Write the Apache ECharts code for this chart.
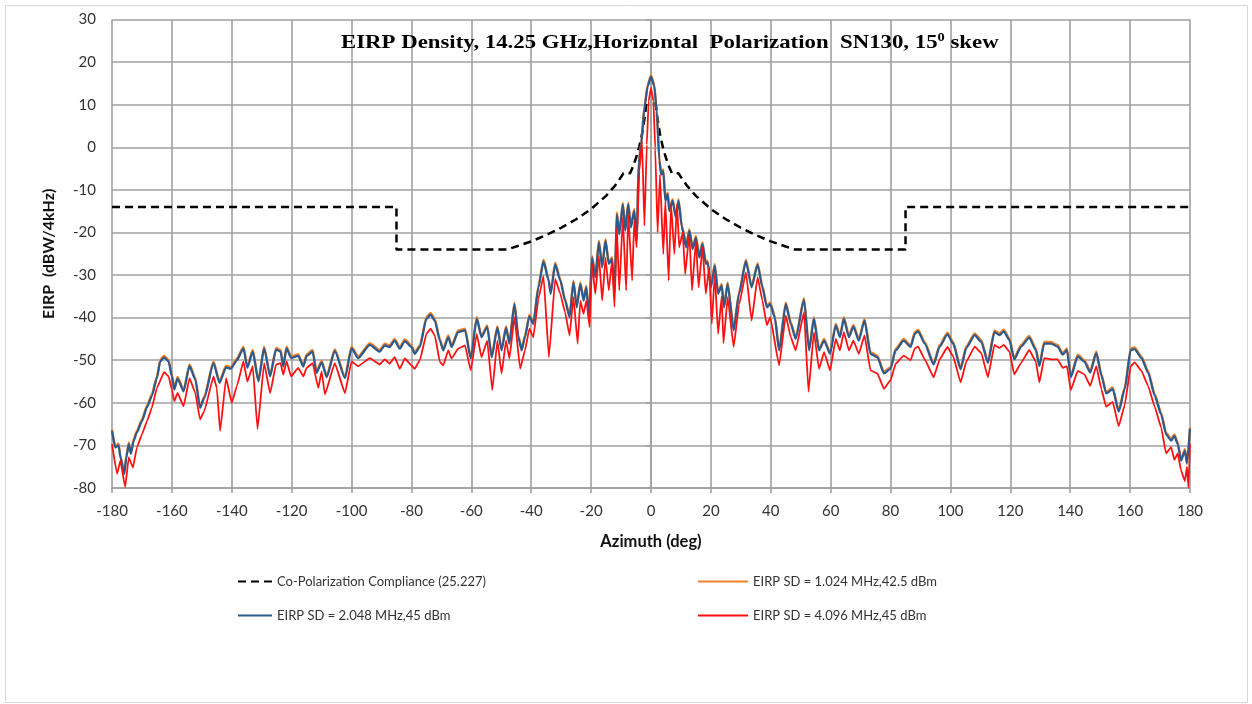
<!DOCTYPE html>
<html>
<head>
<meta charset="utf-8">
<script src="https://cdn.jsdelivr.net/npm/echarts@6/dist/echarts.min.js"></script>
<style>
  html, body { margin: 0; padding: 0; background: #ffffff; }
  #chart { width: 1252px; height: 704px; }
</style>
</head>
<body>
<div id="chart"></div>
<script>
// Series names (legend entries)
const seriesNames = [
  'Co-Polarization Compliance (25.227)',
  'EIRP SD = 1.024 MHz,42.5 dBm',
  'EIRP SD = 2.048 MHz,45 dBm',
  'EIRP SD = 4.096 MHz,45 dBm'
];

// Compliance mask (dBW/4kHz) vs azimuth (deg); null leaves the main-beam gap open
const maskAz = [-180, -85, -85, -48, -45, -40, -35, -30, -25, -20, -15, -12, -10, -9.2, -7, -6, -5, -4, -3, -2, -1.5,
  0, 1.5, 2, 3, 4, 5, 6, 7, 9.2, 10, 12, 15, 20, 25, 30, 35, 40, 45, 48, 85, 85, 180];
const maskVals = [-14, -14, -24, -24, -23.3, -22.1, -20.6, -18.9, -16.9, -14.5, -11.4, -9, -7, -6.1, -6.1, -4.5, -2.5, -0.1, 3.1, 7.5, 10.6,
  null, 10.6, 7.5, 3.1, -0.1, -2.5, -4.5, -6.1, -6.1, -7, -9, -11.4, -14.5, -16.9, -18.9, -20.6, -22.1, -23.3, -24, -24, -14, -14];

// Azimuth samples shared by the 1.024 MHz and 2.048 MHz measurements
const azimuthA = [
  -180,-178.9,-177.8,-177.2,-175.9,-175.2,-174.4,-173.7,-172.8,-171.7,
  -170,-168.3,-166.7,-165,-163.9,-162.6,-161.1,-160,-159.2,-158.1,
  -156.1,-154.1,-152.2,-150.6,-149.2,-146.1,-144.1,-141.9,-140.3,-138.3,
  -136.1,-134.8,-133,-131.1,-129.2,-127.2,-125.2,-123.7,-122.8,-121.7,
  -120.2,-117.8,-116.1,-115,-113,-111.7,-110,-108.3,-105.6,-102.2,
  -100,-97.8,-93.9,-90.6,-88.9,-87.3,-85.6,-83.9,-82.2,-80,
  -78.9,-77.2,-75,-73.6,-72.2,-70.5,-69.4,-67.7,-66.6,-64.4,
  -62.1,-60.2,-58.2,-56.6,-54.7,-53.2,-51.3,-49.9,-48.4,-47.3,
  -45.6,-44.3,-43.2,-42.1,-40.6,-39.3,-37.6,-35.9,-34.2,-33.5,
  -32,-30.3,-28.7,-27.2,-25.9,-24.8,-23.6,-22.5,-21.6,-20.7,
  -19.7,-18.6,-17.4,-16.3,-15.2,-14.1,-13,-12.2,-11.4,-10.6,
  -9.4,-8.6,-7.6,-6.7,-5.6,-4.8,-4.1,-3.3,-2.2,-1.1,
  0,1.1,1.9,2.8,3.4,4.1,4.8,5.6,6.1,7.2,
  8.3,9.2,10.3,10.8,11.7,12.8,13.9,15,16.1,17.2,
  18.3,18.9,20,21.3,22.4,23.6,24.4,25.6,27.6,29.4,
  31.7,33.6,35.6,37.2,38.7,39.8,41.3,42.8,45,46.7,
  48.3,51.1,52.8,54.4,56.1,57.8,59.8,61.7,63.1,64.4,
  66.1,67.6,69.4,71.3,73.3,75.6,77.8,80,81.7,84.4,
  86.7,88.1,89.2,91.4,94.4,96.4,99,100.9,103.4,105.3,
  108.1,110.3,112.5,114.7,116.4,117.8,119.7,121.3,123.6,126.3,
  128.5,129.7,131.3,133.6,135.8,137.5,138.9,140.2,142.5,144.7,
  146.7,148.7,150.4,152,154.2,156.2,158.2,160.2,161.5,163.8,
  166,168.2,170.4,172,173.7,174.8,175.9,177,178.3,179,
  180
];

// EIRP SD, 2.048 MHz (dBW/4kHz)
const eirp2048 = [
  -66.6,-70.5,-70,-72.8,-76.7,-72.8,-69.7,-72,-69,-67,
  -64.3,-61,-58.4,-54.2,-50.3,-49.3,-50.3,-53.8,-56.9,-54.3,
  -57.3,-51.4,-54.5,-61.2,-58.9,-50.7,-55.3,-51.7,-52,-50,
  -47.2,-51.8,-48,-55,-47.2,-53.8,-47.5,-48,-51.5,-47.2,
  -49.5,-49,-51.5,-49,-48,-53,-50.5,-54,-47.8,-54.2,
  -47.2,-49.5,-46.4,-48,-46.5,-46.9,-45.4,-47.3,-45.5,-46.9,
  -48.5,-46.9,-40.3,-39.3,-40.7,-45.4,-47.7,-44.6,-46.9,-43.4,
  -43,-49.6,-40.3,-44.6,-42.2,-49.3,-42.4,-47.7,-42.4,-46.1,
  -36.9,-44.6,-47.7,-44.6,-39.7,-41.5,-32.9,-26.8,-31.3,-34.4,
  -27.5,-31.3,-36,-39.9,-31.7,-37.6,-32.1,-36,-32.9,-40,
  -25.9,-30.5,-22.3,-28.2,-22,-27.4,-26.2,-34.4,-15.7,-20.4,
  -13.4,-19.6,-13.4,-18.8,-14.9,-22,-4,0.5,9.2,14.3,
  16.6,14.3,8.4,-3.2,-6.4,-5.6,-12.6,-11,-15,-12.6,
  -16.5,-12.6,-18.8,-20,-23.5,-19.6,-23.9,-21.2,-25.9,-22.7,
  -27.4,-27,-32.9,-27.8,-34.4,-32.5,-37.6,-32.1,-43,-34.4,
  -26.8,-32.9,-27.6,-32.9,-37.6,-36.8,-39.9,-47.7,-36.8,-41.5,
  -45,-35.8,-47.7,-40.3,-47.7,-45.4,-48.5,-41.8,-44.6,-40.3,
  -44.6,-42.1,-45.4,-40.7,-48.5,-49.3,-53.1,-52,-47.7,-45.4,
  -46.9,-43.8,-43.2,-46.1,-51,-46.8,-43.9,-46.1,-52.1,-47.1,
  -44.1,-45.7,-50.6,-43.4,-44.1,-43.2,-45.3,-49.8,-46.8,-44.7,
  -47.6,-51.4,-46.1,-46.1,-46.8,-48.7,-47.6,-54,-49.1,-50.3,
  -52.9,-48.3,-53.6,-57.8,-56.8,-62.1,-56.8,-47.6,-47.4,-49.5,
  -52.9,-58.3,-62.8,-67.4,-68.9,-67.8,-69.7,-73.6,-71.3,-74.3,
  -66.1
];

// EIRP SD, 1.024 MHz (dBW/4kHz)
const eirp1024 = [
  -66.2,-70.1,-69.6,-72.4,-76.3,-72.4,-69.3,-71.6,-68.6,-66.6,
  -63.9,-60.6,-58,-53.8,-49.9,-48.9,-49.9,-53.4,-56.5,-53.9,
  -56.9,-51,-54.1,-60.8,-58.5,-50.3,-54.9,-51.3,-51.6,-49.6,
  -46.8,-51.4,-47.6,-54.6,-46.8,-53.4,-47.1,-47.6,-51.1,-46.8,
  -49.1,-48.6,-51.1,-48.6,-47.6,-52.6,-50.1,-53.6,-47.4,-53.8,
  -46.8,-49.1,-46,-47.6,-46.1,-46.5,-45,-46.9,-45.1,-46.5,
  -48.1,-46.5,-39.9,-38.9,-40.3,-45,-47.3,-44.2,-46.5,-43,
  -42.6,-49.2,-39.9,-44.2,-41.8,-48.9,-42,-47.3,-42,-45.7,
  -36.5,-44.2,-47.3,-44.2,-39.3,-41.1,-32.5,-26.4,-30.9,-34,
  -27.1,-30.9,-35.6,-39.5,-31.3,-37.2,-31.7,-35.6,-32.5,-39.6,
  -25.5,-30.1,-21.9,-27.8,-21.6,-27,-25.8,-34,-15.3,-20,
  -13,-19.2,-13,-18.4,-14.5,-21.6,-3.6,0.9,9.6,14.7,
  17,14.7,8.8,-2.8,-6,-5.2,-12.2,-10.6,-14.6,-12.2,
  -16.1,-12.2,-18.4,-19.6,-23.1,-19.2,-23.5,-20.8,-25.5,-22.3,
  -27,-26.6,-32.5,-27.4,-34,-32.1,-37.2,-31.7,-42.6,-34,
  -26.4,-32.5,-27.2,-32.5,-37.2,-36.4,-39.5,-47.3,-36.4,-41.1,
  -44.6,-35.4,-47.3,-39.9,-47.3,-45,-48.1,-41.4,-44.2,-39.9,
  -44.2,-41.7,-45,-40.3,-48.1,-48.9,-52.7,-51.6,-47.3,-45,
  -46.5,-43.4,-42.8,-45.7,-50.6,-46.4,-43.5,-45.7,-51.7,-46.7,
  -43.7,-45.3,-50.2,-43,-43.7,-42.8,-44.9,-49.4,-46.4,-44.3,
  -47.2,-51,-45.7,-45.7,-46.4,-48.3,-47.2,-53.6,-48.7,-49.9,
  -52.5,-47.9,-53.2,-57.4,-56.4,-61.7,-56.4,-47.2,-47,-49.1,
  -52.5,-57.9,-62.4,-67,-68.5,-67.4,-69.3,-73.2,-70.9,-73.9,
  -65.7
];

// Azimuth samples for the 4.096 MHz measurement
const azimuthB = [
  -180,-178.3,-177.2,-175.6,-174.4,-173,-171.7,-170,-168.3,-166.7,
  -165,-162.6,-161.1,-160,-159.2,-158.1,-156.1,-154.1,-152.2,-150.6,
  -149.2,-146.1,-145,-143.9,-141.9,-140,-138.3,-136.1,-134.8,-133,
  -131.4,-129.2,-127.2,-125.2,-123.7,-122.8,-121.7,-120.2,-117.8,-116.1,
  -115,-113,-111.1,-110,-108.9,-105.6,-102.2,-100,-97.8,-93.9,
  -90.6,-88.9,-87.3,-85.6,-83.9,-82.2,-80,-78.9,-77.2,-75,
  -73.6,-72.2,-70.5,-69.4,-67.7,-66.6,-64.4,-62.1,-60.2,-58.2,
  -56.6,-54.7,-53,-51.3,-49.9,-48.4,-47.3,-45.6,-43.7,-42.1,
  -40.6,-39.3,-37.6,-35.9,-34.1,-32,-30.3,-28.7,-27.2,-25.9,
  -24.5,-23.6,-22.5,-21.6,-20.5,-19.7,-18.6,-17.4,-16.3,-15.2,
  -14.1,-13,-12.2,-11.4,-10.6,-9.4,-8.3,-7.6,-6.3,-5.6,
  -4.8,-3.9,-3,-2.2,-1.4,-0.8,0,0.8,1.4,2.2,
  3,4.1,4.8,5.9,6.7,7.8,8.7,9.4,10.6,11.4,
  12.8,13.7,15,15.9,17.2,18.3,19.4,20.3,21.3,22.4,
  23.6,24.2,25.6,27.6,29.4,31.7,33.6,35.6,37.2,38.7,
  39.8,42.8,45,46.7,48.3,51.1,52.6,54.4,56.1,57.8,
  59.8,61.7,63.1,64.4,66.1,67.6,69.4,71.3,73.3,75.6,
  77.8,80,81.7,84.4,86.7,88.1,89.2,91.4,94.4,96.4,
  99,100.9,103.4,105.3,108.1,110.3,112.5,114.7,116.4,117.8,
  119.7,121.3,123.6,126.3,128.5,129.7,131.3,133.6,135.8,137.5,
  138.9,140.2,142.5,144.7,146.7,148.7,150.4,152,154.2,156.2,
  158.2,160.2,161.5,163.8,166,168.2,170.4,172,173.7,174.8,
  175.9,177,178.3,179,179.5,180
];

// EIRP SD, 4.096 MHz (dBW/4kHz)
const eirp4096 = [
  -69.7,-76.7,-73.6,-79.8,-72.8,-75.2,-70.5,-67.4,-64.3,-61.2,
  -56.5,-52.8,-53.8,-56.9,-59.6,-57.7,-60.8,-54.2,-57.7,-63.9,
  -62,-53.8,-56.5,-66.6,-54.2,-60,-56.1,-50.3,-55,-51.4,
  -66.2,-50.7,-57.7,-51,-50.7,-53.4,-50.3,-53.8,-51.8,-53.8,
  -51.8,-50.7,-56.5,-52.6,-58,-50.7,-57.7,-50.3,-51.4,-49.5,
  -51,-49.8,-50.8,-49.3,-52,-49.6,-51.2,-52,-50,-43.8,
  -42.6,-44.2,-50.4,-51.2,-47.7,-49.6,-47.3,-46.5,-52.4,-43.8,
  -49.3,-45.4,-57,-45.4,-53.1,-45.4,-49.6,-39.9,-52,-47.7,
  -42.6,-44.6,-35.6,-30.2,-49.3,-30.9,-34.4,-38.7,-44.2,-35.2,
  -46.1,-36,-39.1,-36,-42.2,-27.4,-34.4,-25.5,-36,-25.9,
  -33.6,-26.6,-37.5,-18.8,-33.6,-16.5,-33.6,-15.7,-31.3,-17.3,
  -23.5,-5.6,1.4,-18.4,0.6,10.8,14,10.8,-0.1,-20,
  -6.4,-25.1,-12.6,-31.3,-13.4,-25.1,-13.4,-23.5,-20,-29.8,
  -20.4,-33.6,-22,-32.9,-23.5,-34.4,-28.2,-41.4,-29.8,-43.8,
  -35,-46,-35.2,-46.9,-37,-29.4,-40.7,-30.5,-36,-41.8,
  -39.9,-51.2,-39.5,-44.6,-47.7,-38.7,-57.4,-43.4,-52,-48.1,
  -52.4,-45,-47.7,-43.4,-47.7,-45.4,-48.5,-44.2,-52.4,-53.1,
  -56.7,-54.7,-50.8,-48.9,-50,-47.2,-46.8,-49.8,-54,-49.8,
  -46.9,-49.1,-55.2,-50.3,-46.8,-48.3,-54,-46.4,-47.1,-46.4,
  -48,-53.3,-50.6,-47.6,-50.3,-55.2,-49.5,-49.8,-49.8,-51.8,
  -51.4,-57,-52.5,-53.3,-56,-51.4,-56.8,-60.9,-59.8,-65.5,
  -60.5,-51.4,-50.5,-52.5,-56,-60.9,-65.9,-71.9,-70.4,-73.4,
  -71.9,-75.8,-78.4,-75,-80,-69.6
];

// Axis ranges
const azimuthRange = { min: -180, max: 180, step: 20 };
const eirpRange = { min: -80, max: 30, step: 10 };

const pairs = (xs, ys) => xs.map((x, i) => [x, ys[i] === null ? '-' : ys[i]]);

const labelFont = 'Lato, "Open Sans", sans-serif';
const gridColor = '#a0a0a0';

const chart = echarts.init(document.getElementById('chart'), null, { renderer: 'canvas' });

// Legend entries show only the line stroke, no marker
const legendBase = {
  itemHeight: 14, itemGap: 0,
  itemStyle: { opacity: 0, borderWidth: 0 },
  textStyle: { fontFamily: labelFont, fontSize: 13, color: '#333333' }
};

chart.setOption({
  animation: false,
  backgroundColor: '#ffffff',
  grid: { left: 112, right: 62, top: 19.5, bottom: 216, containLabel: false },
  xAxis: {
    type: 'value',
    min: azimuthRange.min, max: azimuthRange.max, interval: azimuthRange.step,
    name: 'Azimuth (deg)', nameLocation: 'middle', nameGap: 45,
    nameTextStyle: { fontFamily: labelFont, fontSize: 16.5, fontWeight: 'bold', color: '#111111' },
    axisLine: { onZero: false, lineStyle: { color: gridColor, width: 1.6 } },
    axisTick: { show: true, length: 5, lineStyle: { color: gridColor, width: 1.6 } },
    axisLabel: { fontFamily: labelFont, fontSize: 15, color: '#333333', margin: 16 },
    splitLine: { show: true, lineStyle: { color: gridColor, width: 1.6 } }
  },
  yAxis: {
    type: 'value',
    min: eirpRange.min, max: eirpRange.max, interval: eirpRange.step,
    name: 'EIRP  (dBW/4kHz)', nameLocation: 'middle', nameGap: 55, nameRotate: 90,
    nameTextStyle: { fontFamily: labelFont, fontSize: 16, fontWeight: 'bold', color: '#111111' },
    axisLine: { show: true, lineStyle: { color: gridColor, width: 1.6 } },
    axisTick: { show: true, length: 5, lineStyle: { color: gridColor, width: 1.6 } },
    axisLabel: { fontFamily: labelFont, fontSize: 15, color: '#333333', margin: 16 },
    splitLine: { show: true, lineStyle: { color: gridColor, width: 1.6 } }
  },
  legend: [
    Object.assign({ data: [seriesNames[0]], left: 232, top: 570, itemWidth: 34 }, legendBase),
    Object.assign({ data: [seriesNames[1]], left: 692, top: 570, itemWidth: 50 }, legendBase),
    Object.assign({ data: [seriesNames[2]], left: 232, top: 604, itemWidth: 34 }, legendBase),
    Object.assign({ data: [seriesNames[3]], left: 692, top: 604, itemWidth: 50 }, legendBase)
  ],
  graphic: [
    {
      type: 'rect', silent: true, z: -10,
      shape: { x: 5.5, y: 5.5, width: 1242, height: 697 },
      style: { fill: null, stroke: '#d6d6d6', lineWidth: 1 }
    },
    {
      type: 'text', silent: true, x: 341, y: 32, scaleX: 1.2, z: 100,
      style: {
        x: 0, y: 0, align: 'left', verticalAlign: 'top',
        text: '{a|EIRP Density, 14.25 GHz,Horizontal  Polarization  SN130, 15}{s|0}{a| skew}',
        rich: {
          a: { fontFamily: '"Liberation Serif", "DejaVu Serif", serif', fontWeight: 'bold', fontSize: 19, fill: '#000000', lineHeight: 23 },
          s: { fontFamily: '"Liberation Serif", "DejaVu Serif", serif', fontWeight: 'bold', fontSize: 12, fill: '#000000', lineHeight: 23, verticalAlign: 'top' }
        }
      }
    }
  ],
  series: [
    {
      name: seriesNames[0], type: 'line', data: pairs(maskAz, maskVals),
      symbol: 'none', showSymbol: false, connectNulls: false, z: 2,
      lineStyle: { color: '#000000', width: 2.5, type: [8, 5] },
      itemStyle: { color: '#000000' }
    },
    {
      name: seriesNames[1], type: 'line', data: pairs(azimuthA, eirp1024),
      symbol: 'none', showSymbol: false, smooth: 0.2, smoothMonotone: 'x', z: 3,
      lineStyle: { color: '#F0802A', width: 2.3 },
      itemStyle: { color: '#F0802A' }
    },
    {
      name: seriesNames[2], type: 'line', data: pairs(azimuthA, eirp2048),
      symbol: 'none', showSymbol: false, smooth: 0.2, smoothMonotone: 'x', z: 4,
      lineStyle: { color: '#2C5A8C', width: 2.2 },
      itemStyle: { color: '#2C5A8C' }
    },
    {
      name: seriesNames[3], type: 'line', data: pairs(azimuthB, eirp4096),
      symbol: 'none', showSymbol: false, smooth: 0.1, smoothMonotone: 'x', z: 5,
      lineStyle: { color: '#FF1010', width: 1.8 },
      itemStyle: { color: '#FF1010' }
    }
  ]
});
</script>
</body>
</html>
